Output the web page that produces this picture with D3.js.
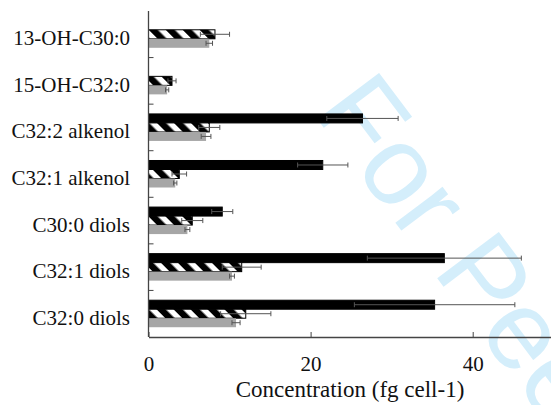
<!DOCTYPE html>
<html>
<head>
<meta charset="utf-8">
<script src="https://cdn.jsdelivr.net/npm/d3@7"></script>
<style>
  body { margin: 0; background: #fff; }
  svg { display: block; }
  .serif { font-family: "Liberation Serif", "Times New Roman", Times, serif; }
</style>
</head>
<body>
<div id="chart"></div>
<script>
// compounds, top to bottom
var categories = ["13-OH-C30:0", "15-OH-C32:0", "C32:2 alkenol", "C32:1 alkenol",
                  "C30:0 diols", "C32:1 diols", "C32:0 diols"];
// three series per compound (black, hatched, grey)
var series = ["solid", "hatched", "grey"];

var solid_vals   = [0, 0, 26.4, 21.5, 9.1, 36.5, 35.3];
var solid_err    = [0, 0, 4.4, 3.1, 1.3, 9.5, 9.9];
var hatched_vals = [8.2, 2.9, 7.5, 3.8, 5.4, 11.5, 12.0];
var hatched_err  = [1.8, 0.5, 1.3, 0.9, 1.3, 2.4, 3.1];
var grey_vals    = [7.5, 2.3, 7.1, 3.3, 4.8, 10.3, 10.8];
var grey_err     = [0.4, 0.2, 0.6, 0.2, 0.3, 0.3, 0.5];

var x_ticks = [0, 20, 40];

var width = 551, height = 405;
var margin = {left: 148.5, top: 11, bottom: 68};

// build rows for drawing
var rows = [];
categories.forEach(function(c, i) {
    rows.push({cat: c, s: "solid",   v: solid_vals[i],   e: solid_err[i]});
    rows.push({cat: c, s: "hatched", v: hatched_vals[i], e: hatched_err[i]});
    rows.push({cat: c, s: "grey",    v: grey_vals[i],    e: grey_err[i]});
});
rows = rows.filter(function(d) { return d.v > 0; });

var svg = d3.select("#chart")
    .append("svg")
    .attr("width", width)
    .attr("height", height);

// hatch pattern
var defs = svg.append("defs");
defs.append("pattern")
    .attr("id", "hatch")
    .attr("patternUnits", "userSpaceOnUse")
    .attr("width", 12)
    .attr("height", 12)
    .attr("patternTransform", "rotate(-45)")
  .call(function(p) {
    p.append("rect").attr("width", 12).attr("height", 12).attr("fill", "#fff");
    p.append("rect").attr("width", 6.5).attr("height", 12).attr("fill", "#000");
  });

// watermark
svg.append("text")
    .attr("transform", "translate(312,112) rotate(53)")
    .style("font-family", "'Liberation Sans', Arial, sans-serif")
    .attr("font-size", 112)
    .attr("fill", "#d4eefb")
    .text("For Peer Review");

// scales
var x = d3.scaleLinear()
    .domain([0, 50])
    .range([margin.left, margin.left + 50 * 8.105]);

var y0 = d3.scaleBand()
    .domain(categories)
    .range([margin.top, height - margin.bottom])
    .paddingInner(0.42)
    .paddingOuter(0.21);

var y1 = d3.scaleBand()
    .domain(series)
    .range([0, y0.bandwidth()]);

var fills = {solid: "#000", hatched: "url(#hatch)", grey: "#a6a6a6"};

// bars
svg.append("g").selectAll("rect")
    .data(rows)
    .enter()
    .append("rect")
    .attr("x", x(0))
    .attr("y", function(d) { return y0(d.cat) + y1(d.s); })
    .attr("width", function(d) { return x(d.v) - x(0); })
    .attr("height", y1.bandwidth())
    .attr("fill", function(d) { return fills[d.s]; })
    .attr("stroke", function(d) { return d.s == "grey" ? "none" : "#000"; })
    .attr("stroke-width", 1);

// error bars
var err = svg.append("g")
    .attr("stroke", "#555")
    .attr("stroke-width", 1)
    .selectAll("g")
    .data(rows)
    .enter()
    .append("g")
    .attr("transform", function(d) { return "translate(0," + (y0(d.cat) + y1(d.s) + y1.bandwidth() / 2) + ")"; });

err.append("line")
    .attr("x1", function(d) { return x(d.v - d.e); })
    .attr("x2", function(d) { return x(d.v + d.e); });
err.append("line")
    .attr("x1", function(d) { return x(d.v - d.e); })
    .attr("x2", function(d) { return x(d.v - d.e); })
    .attr("y1", -2.5).attr("y2", 2.5);
err.append("line")
    .attr("x1", function(d) { return x(d.v + d.e); })
    .attr("x2", function(d) { return x(d.v + d.e); })
    .attr("y1", -2.5).attr("y2", 2.5);

// x axis
var xAxis = svg.append("g")
    .attr("transform", "translate(0," + (height - margin.bottom) + ")")
    .call(d3.axisBottom(x).tickValues(x_ticks).tickSizeInner(-5).tickSizeOuter(0).tickPadding(19));
xAxis.attr("font-family", null);
xAxis.select(".domain").attr("stroke", "#444").attr("stroke-width", 1.3);
xAxis.selectAll(".tick line").attr("stroke", "#444");
xAxis.selectAll("text")
    .attr("class", "serif")
    .attr("font-size", 21)
    .attr("fill", "#111");

// x axis label
svg.append("text")
    .attr("class", "serif")
    .attr("text-anchor", "middle")
    .attr("x", 350)
    .attr("y", 397)
    .attr("font-size", 23)
    .attr("fill", "#111")
    .text("Concentration (fg cell-1)");

// y axis line and boundary ticks
var yg = svg.append("g");
yg.append("line")
    .attr("x1", x(0)).attr("x2", x(0))
    .attr("y1", margin.top).attr("y2", height - margin.bottom)
    .attr("stroke", "#444")
    .attr("stroke-width", 1.3);
yg.selectAll(".btick")
    .data(categories.slice(1))
    .enter()
    .append("line")
    .attr("x1", x(0)).attr("x2", x(0) + 5)
    .attr("y1", function(d) { return y0(d) - y0.step() * y0.paddingInner() / 2; })
    .attr("y2", function(d) { return y0(d) - y0.step() * y0.paddingInner() / 2; })
    .attr("stroke", "#444");

// category labels
yg.selectAll(".lbl")
    .data(categories)
    .enter()
    .append("text")
    .attr("class", "serif")
    .attr("text-anchor", "end")
    .attr("x", 130)
    .attr("y", function(d) { return y0(d) + y0.bandwidth() / 2 + 11; })
    .attr("font-size", 21)
    .attr("fill", "#111")
    .text(function(d) { return d; });
</script>
</body>
</html>
